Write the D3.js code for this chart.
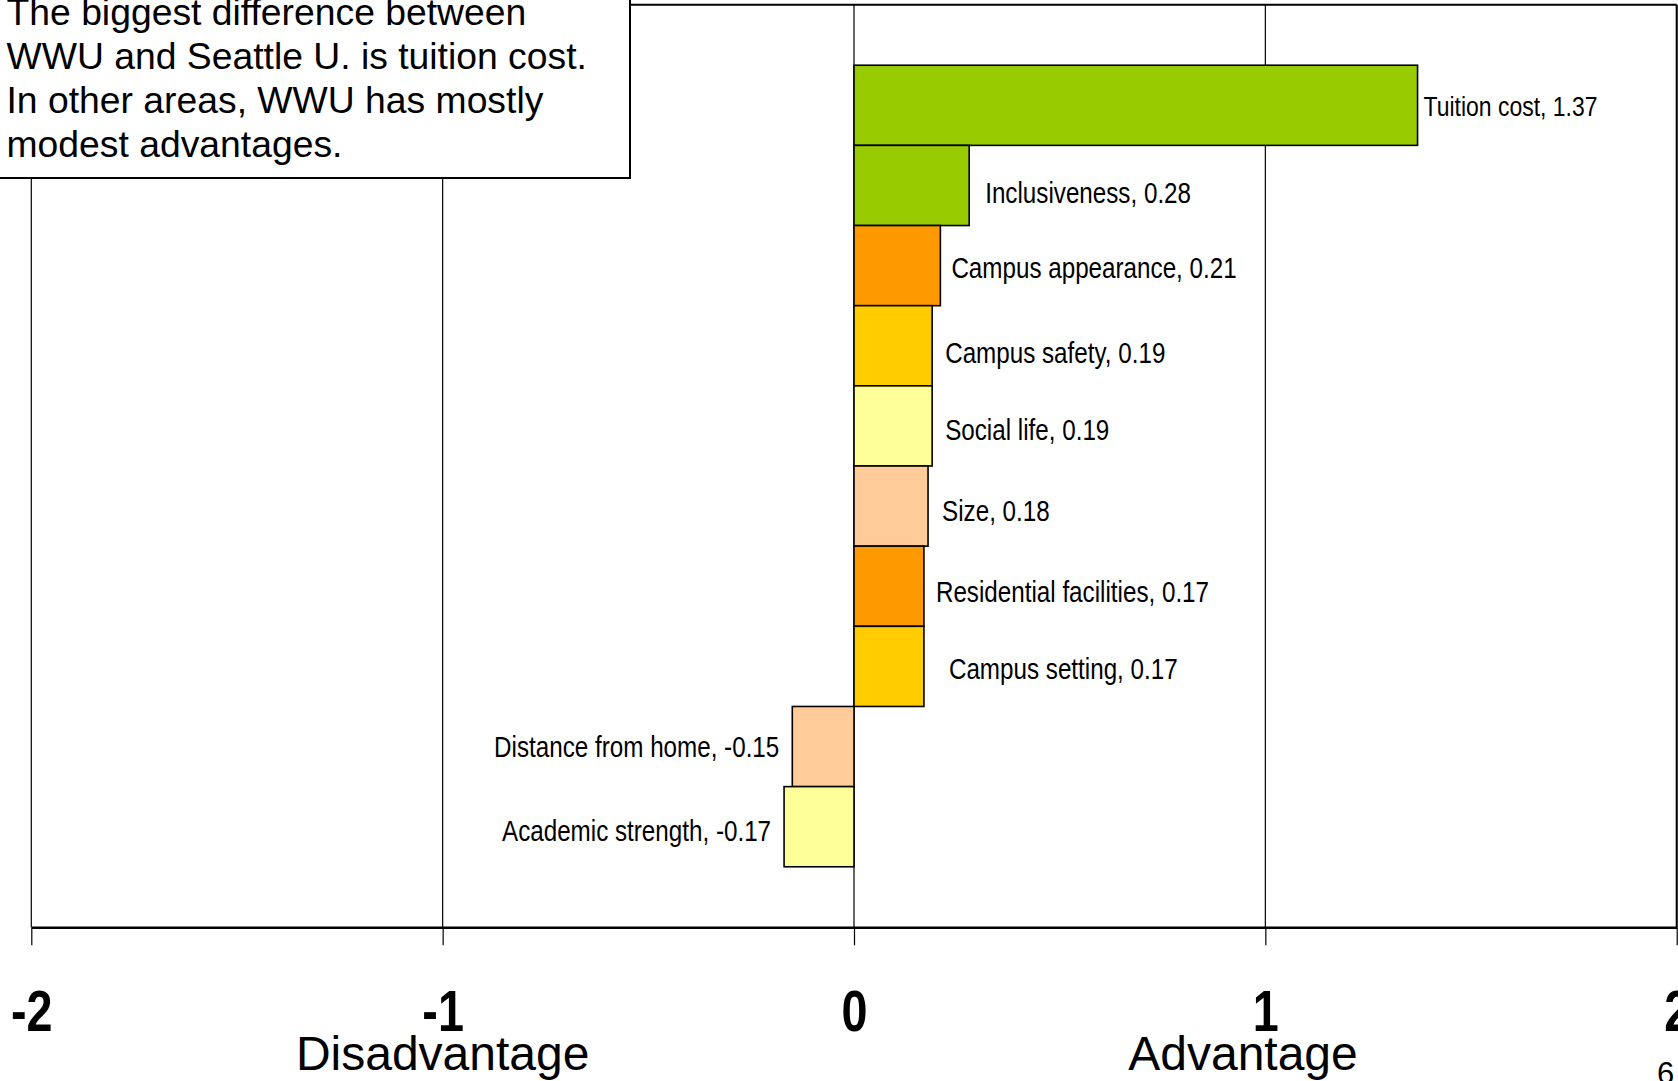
<!DOCTYPE html>
<html>
<head>
<meta charset="utf-8">
<script src="https://cdn.jsdelivr.net/npm/d3@7"></script>
<style>
  html, body { margin: 0; padding: 0; background: #fff; overflow: hidden; }
  svg { display: block; }
</style>
</head>
<body>
<svg id="chart" width="1678" height="1081"></svg>
<script>
// ---- data ----
const categories = ["Tuition cost", "Inclusiveness", "Campus appearance", "Campus safety", "Social life",
  "Size", "Residential facilities", "Campus setting", "Distance from home", "Academic strength"];
const values = [1.37, 0.28, 0.21, 0.19, 0.19, 0.18, 0.17, 0.17, -0.15, -0.17];
const barColors = ["#99CC00", "#99CC00", "#FF9900", "#FFCC00", "#FFFF99",
  "#FFCC99", "#FF9900", "#FFCC00", "#FFCC99", "#FFFF99"];
const tickValues = [-2, -1, 0, 1, 2];
const tickLabels = ["-2", "-1", "0", "1", "2"];
const axisTitles = ["Disadvantage", "Advantage"];
const noteLines = ["The biggest difference between", "WWU and Seattle U. is tuition cost.",
  "In other areas, WWU has mostly", "modest advantages."];
const pageNumber = "6";

// ---- layout ----
const W = 1678, H = 1081;
const plot = { left: 31.3, right: 1676.7, top: 4.7, bottom: 927.3 };
const sans = "'Liberation Sans', Arial, sans-serif";
const NARROW = 0.835; // horizontal squeeze to mimic Arial Narrow
// manual label nudges (as placed on the original slide)
const labelGap = [6, 16, 11, 13, 13, 14, 12, 25, 13, 13];
const labelDy = [1, 7, 2.2, 7, 4, 4.5, 5, 2, 0.5, 3.5];
const labelSize = i => (i === 0 ? 27.5 : 29);

const svg = d3.select("#chart");
const x = d3.scaleLinear().domain([-2, 2]).range([plot.left, plot.right]);
const y = d3.scaleBand().domain(categories).range([plot.top, plot.bottom])
  .paddingInner(0).paddingOuter(0.755);

const data = categories.map((c, i) => ({ cat: c, v: values[i], color: barColors[i], i }));
const fmt = v => d3.format(".2f")(v).replace("\u2212", "-");

// gridlines
svg.append("g").selectAll("line").data(tickValues).join("line")
  .attr("x1", d => x(d)).attr("x2", d => x(d))
  .attr("y1", plot.top).attr("y2", plot.bottom)
  .attr("stroke", "#000").attr("stroke-width", 1.2);

// plot border top and right
svg.append("line").attr("x1", plot.left).attr("x2", plot.right)
  .attr("y1", plot.top).attr("y2", plot.top).attr("stroke", "#000").attr("stroke-width", 2);
svg.append("line").attr("x1", plot.right).attr("x2", plot.right)
  .attr("y1", plot.top).attr("y2", plot.bottom).attr("stroke", "#000").attr("stroke-width", 2);

// bars
svg.append("g").selectAll("rect").data(data).join("rect")
  .attr("x", d => x(Math.min(0, d.v)))
  .attr("y", d => y(d.cat))
  .attr("width", d => Math.abs(x(d.v) - x(0)))
  .attr("height", y.bandwidth())
  .attr("fill", d => d.color)
  .attr("stroke", "#000").attr("stroke-width", 1.6);

// data labels
svg.append("g").selectAll("text").data(data).join("text")
  .attr("transform", d => {
    const fs = labelSize(d.i);
    const tx = d.v >= 0 ? x(d.v) + labelGap[d.i] : x(d.v) - labelGap[d.i];
    const ty = y(d.cat) + y.bandwidth() / 2 + labelDy[d.i] + fs * 0.358;
    return `translate(${tx},${ty}) scale(${NARROW},1)`;
  })
  .attr("text-anchor", d => d.v >= 0 ? "start" : "end")
  .attr("font-family", sans)
  .attr("font-size", d => labelSize(d.i))
  .attr("fill", "#000")
  .text(d => `${d.cat}, ${fmt(d.v)}`);

// x axis
const axis = d3.axisBottom(x).tickValues(tickValues)
  .tickFormat((d, i) => tickLabels[i]).tickSizeInner(18).tickSizeOuter(0);
const gx = svg.append("g").attr("transform", `translate(0,${plot.bottom})`).call(axis);
gx.select(".domain").attr("stroke", "#000").attr("stroke-width", 2.4);
gx.selectAll(".tick line").attr("stroke", "#000").attr("stroke-width", 1.2);
gx.selectAll(".tick text")
  .attr("x", 0).attr("y", 0).attr("dy", 0)
  .attr("transform", `translate(0,104) scale(0.82,1)`)
  .attr("font-family", sans).attr("font-weight", "bold")
  .attr("font-size", 57).attr("fill", "#000");

// axis titles
svg.append("text").attr("x", x(-1)).attr("y", 1070).attr("text-anchor", "middle")
  .attr("font-family", sans).attr("font-size", 48).text(axisTitles[0]);
svg.append("text").attr("x", 1243).attr("y", 1070).attr("text-anchor", "middle")
  .attr("font-family", sans).attr("font-size", 48).text(axisTitles[1]);

// page number
svg.append("text").attr("x", 1657).attr("y", 1084)
  .attr("font-family", sans).attr("font-size", 31).text(pageNumber);

// note box
const note = svg.append("g");
note.append("rect").attr("x", -3).attr("y", -12).attr("width", 633).attr("height", 190)
  .attr("fill", "#fff").attr("stroke", "#000").attr("stroke-width", 2);
note.selectAll("text").data(noteLines).join("text")
  .attr("x", 6.5).attr("y", (d, i) => 25 + i * 44)
  .attr("font-family", sans).attr("font-size", 37.3).attr("fill", "#000")
  .text(d => d);
</script>
</body>
</html>
